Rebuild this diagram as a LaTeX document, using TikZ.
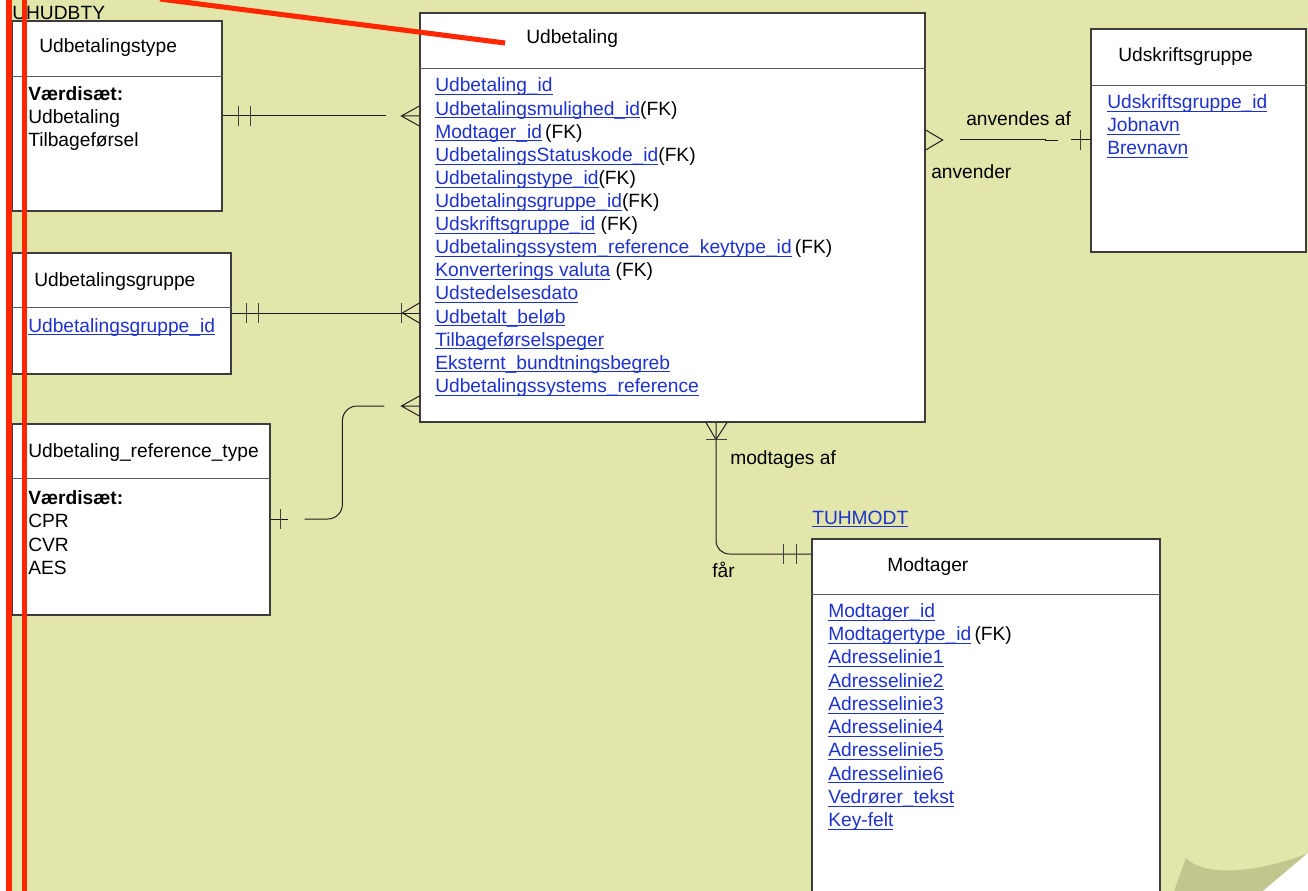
\documentclass[tikz,border=0pt]{standalone}
\usepackage{fontspec}
\setmainfont{Liberation Sans}
\usetikzlibrary{calc,fit}
\definecolor{bg}{RGB}{226,230,170}
\definecolor{curlc}{RGB}{194,198,142}
\definecolor{lnkc}{RGB}{30,50,205}
\definecolor{redc}{RGB}{255,38,0}
\definecolor{edgec}{RGB}{60,60,60}
\definecolor{wirec}{RGB}{30,30,30}
\newcommand\lnk[1]{{\color{lnkc}\setbox0\hbox{#1}\rlap{\rule[-2.4pt]{\wd0}{0.7pt}}\box0}}
\tikzset{
 tbl/.style={draw=edgec, line width=0.9pt, fill=white, inner sep=0pt},
 sepl/.style={draw=edgec!85, line width=0.7pt},
 txt/.style={anchor=base west, inner sep=0pt, font=\fontsize{14.4}{17}\selectfont},
 conn/.style={draw=wirec, line width=0.75pt},
 barl/.style={draw=wirec!85, line width=1pt},
 redline/.style={draw=redc},
}
\begin{document}
\begin{tikzpicture}[x=0.75pt,y=-0.75pt]
\useasboundingbox (0,0) rectangle (1308,891);
% page
\fill[white] (0,0) rectangle (1308,891);
\fill[bg] (8,0) rectangle (1308,891);
\fill[curlc] (1186,858) .. controls (1205,878) and (1262,872) .. (1308,853) -- (1263,891) -- (1174,891) -- cycle;
\fill[white] (1308,853) -- (1308,891) -- (1263,891) -- cycle;

% tables
\node[tbl, fit={(12,21)(222,211)}] (ut) {};
\draw[sepl] (ut.west |- 0,76) -- (ut.east |- 0,76);
\node[tbl, fit={(420,13)(925,422)}] (u) {};
\draw[sepl] (u.west |- 0,68) -- (u.east |- 0,68);
\node[tbl, fit={(1091,29)(1306,252)}] (us) {};
\draw[sepl] (us.west |- 0,85) -- (us.east |- 0,85);
\node[tbl, fit={(12,253)(231,374)}] (ug) {};
\draw[sepl] (ug.west |- 0,307) -- (ug.east |- 0,307);
\node[tbl, fit={(12,424)(270,615)}] (urt) {};
\draw[sepl] (urt.west |- 0,478) -- (urt.east |- 0,478);
\node[tbl, fit={(812,539)(1160,905)}] (m) {};
\draw[sepl] (m.west |- 0,594) -- (m.east |- 0,594);

% texts
\node[txt] (uhudbty) at (12,20) {UHUDBTY};
\node[txt] (utT) at (39,53) {Udbetalingstype};
\node[txt] (ut1) at (28,101) {\textbf{Værdisæt:}};
\node[txt] (ut2) at (28,124) {Udbetaling};
\node[txt] (ut3) at (28,147) {Tilbageførsel};

\node[txt] (uT) at (526,44) {Udbetaling};
\node[txt] (u1) at (435,92) {\lnk{Udbetaling\_id}};
\node[txt] (u2) at (435,115.1) {\lnk{Udbetalingsmulighed\_id}(FK)};
\node[txt] (u3) at (435,138.2) {\lnk{Modtager\_id}\,(FK)};
\node[txt] (u4) at (435,161.3) {\lnk{UdbetalingsStatuskode\_id}(FK)};
\node[txt] (u5) at (435,184.4) {\lnk{Udbetalingstype\_id}(FK)};
\node[txt] (u6) at (435,207.5) {\lnk{Udbetalingsgruppe\_id}(FK)};
\node[txt] (u7) at (435,230.6) {\lnk{Udskriftsgruppe\_id} (FK)};
\node[txt] (u8) at (435,253.7) {\lnk{Udbetalingssystem\_reference\_keytype\_id}\,(FK)};
\node[txt] (u9) at (435,276.8) {\lnk{Konverterings valuta} (FK)};
\node[txt] (u10) at (435,299.9) {\lnk{Udstedelsesdato}};
\node[txt] (u11) at (435,323) {\lnk{Udbetalt\_beløb}};
\node[txt] (u12) at (435,346.1) {\lnk{Tilbageførselspeger}};
\node[txt] (u13) at (435,369.2) {\lnk{Eksternt\_bundtningsbegreb}};
\node[txt] (u14) at (435,392.3) {\lnk{Udbetalingssystems\_reference}};

\node[txt] (usT) at (1118,62) {Udskriftsgruppe};
\node[txt] (us1) at (1107,109) {\lnk{Udskriftsgruppe\_id}};
\node[txt] (us2) at (1107,132) {\lnk{Jobnavn}};
\node[txt] (us3) at (1107,155) {\lnk{Brevnavn}};

\node[txt] (ugT) at (34,286) {Udbetalingsgruppe};
\node[txt] (ug1) at (28,332) {\lnk{Udbetalingsgruppe\_id}};

\node[txt] (urtT) at (28,457) {Udbetaling\_reference\_type};
\node[txt] (urt1) at (28,504) {\textbf{Værdisæt:}};
\node[txt] (urt2) at (28,527) {CPR};
\node[txt] (urt3) at (28,551) {CVR};
\node[txt] (urt4) at (28,574) {AES};

\node[txt] (tuhmodt) at (812,524) {\lnk{TUHMODT}};
\node[txt] (mT) at (887,571) {Modtager};
\node[txt] (m1) at (828,617.3) {\lnk{Modtager\_id}};
\node[txt] (m2) at (828,640.6) {\lnk{Modtagertype\_id}\,(FK)};
\node[txt] (m3) at (828,663.8) {\lnk{Adresselinie1}};
\node[txt] (m4) at (828,687.1) {\lnk{Adresselinie2}};
\node[txt] (m5) at (828,710.4) {\lnk{Adresselinie3}};
\node[txt] (m6) at (828,733.6) {\lnk{Adresselinie4}};
\node[txt] (m7) at (828,756.9) {\lnk{Adresselinie5}};
\node[txt] (m8) at (828,780.2) {\lnk{Adresselinie6}};
\node[txt] (m9) at (828,803.4) {\lnk{Vedrører\_tekst}};
\node[txt] (m10) at (828,826.7) {\lnk{Key-felt}};

% relation labels
\node[txt] (lanvaf) at (966,126) {anvendes af};
\node[txt] (lanv) at (931,179) {anvender};
\node[txt] (lmodt) at (730,464) {modtages af};
\node[txt] (lfaar) at (712,577) {får};

% connector a: Udbetalingstype -- Udbetaling
\coordinate (aL) at (ut.east |- 0,116);
\coordinate (aR) at (u.west |- 0,116);
\draw[conn] (aL) -- ++(163,0);
\draw[barl] ($(aL)+(16,-10)$) -- ++(0,20) ($(aL)+(28,-10)$) -- ++(0,20);
\draw[conn] ($(aR)+(0,-10)$) -- ++(-18,10) -- ++(18,10) ($(aR)+(-18,0)$) -- (aR);

% connector b: Udbetalingsgruppe -- Udbetaling
\coordinate (bL) at (ug.east |- 0,313);
\coordinate (bR) at (u.west |- 0,313);
\draw[conn] (bL) -- (bR);
\draw[barl] ($(bL)+(15,-10)$) -- ++(0,20) ($(bL)+(27,-10)$) -- ++(0,20);
\draw[barl] ($(bR)+(-18,-10)$) -- ++(0,20);
\draw[conn] ($(bR)+(0,-10)$) -- ++(-17,10) -- ++(17,10);

% connector c: Udbetaling_reference_type -- Udbetaling
\coordinate (cL) at (urt.east |- 0,519);
\coordinate (cR) at (u.west |- 0,406);
\draw[conn] (cL) -- ++(17,0);
\draw[barl] ($(cL)+(10,-10)$) -- ++(0,20);
\draw[conn, rounded corners=11] ($(cL)+(34,0)$) -- ($(cR|-cL)+(-77,0)$) -- ($(cR)+(-77,0)$) -- ($(cR)+(-35,0)$);
\draw[conn] ($(cR)+(0,-10)$) -- ++(-18,10) -- ++(18,10) ($(cR)+(-18,0)$) -- (cR);

% connector d: Udbetaling -- Udskriftsgruppe
\coordinate (dL) at (u.east |- 0,140);
\coordinate (dR) at (us.west |- 0,140);
\draw[conn] ($(dL)+(0,-10)$) -- ++(17,10) -- ++(-17,10);
\draw[conn] ($(dL)+(34,0)$) -- ++(86,0) -- ++(0,1) -- ++(12,0);
\draw[conn] ($(dR)+(-19,0)$) -- (dR);
\draw[barl] ($(dR)+(-10,-10)$) -- ++(0,20);

% connector e: Udbetaling -- Modtager
\coordinate (eT) at (u.south -| 716,0);
\coordinate (eB) at (m.west |- 0,554);
\draw[conn, rounded corners=10] (eT) -- (eT |- eB) -- (eB);
\draw[conn] ($(eT)+(-10,0)$) -- ++(10,17) -- ++(11,-17);
\draw[barl] ($(eT)+(-10,17)$) -- ++(21,0);
\draw[barl] ($(eB)+(-28,-10)$) -- ++(0,20) ($(eB)+(-15,-10)$) -- ++(0,20);

% red annotation lines
\draw[redline, line width=4.5pt] (9,-5) -- (9,900);
\draw[redline, line width=3.8pt] (24.5,-5) -- (24.5,900);
\draw[redline, line width=3.8pt] (160,-1) -- (505,43);
\end{tikzpicture}
\end{document}
